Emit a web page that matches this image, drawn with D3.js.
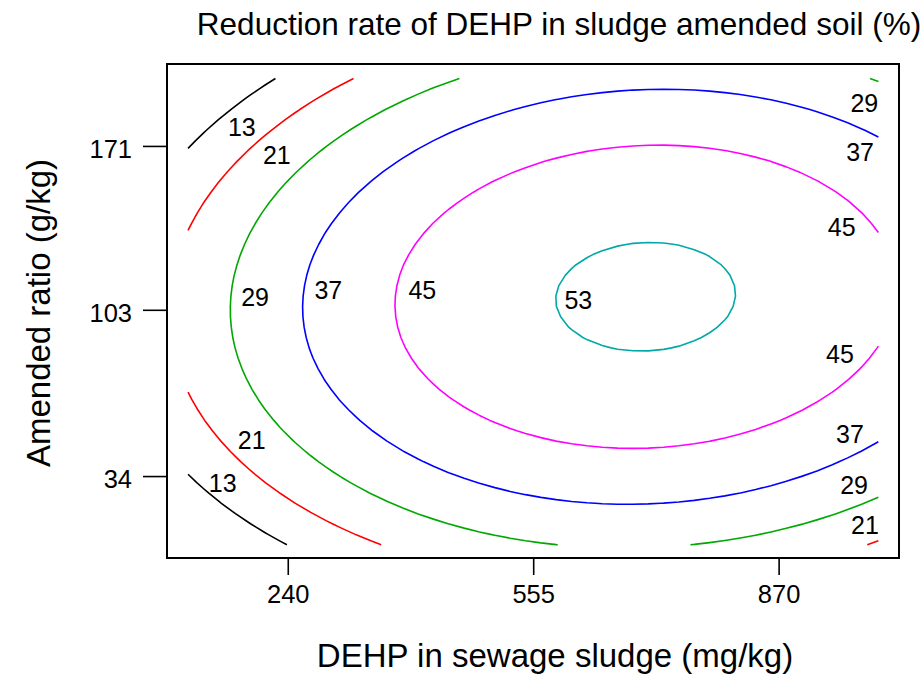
<!DOCTYPE html>
<html>
<head>
<meta charset="utf-8">
<script src="https://cdn.jsdelivr.net/npm/d3@7"></script>
<style>
  body { margin: 0; background: #fff; }
  text { font-family: "Liberation Sans", Arial, sans-serif; fill: #000; }
</style>
</head>
<body>
<svg id="chart" width="924" height="677"></svg>
<script>
// Experimental factors (central composite design, coded levels -1.41 .. +1.41)
const dehpRange = [112, 998];        // DEHP in sewage sludge, mg/kg
const ratioRange = [5.5, 199];       // amended ratio, g/kg
const dehpTicks = [240, 555, 870];
const ratioTicks = [34, 103, 171];
const dehpCenter = 555, dehpStep = 315;
const ratioCenter = 103, ratioStep = 68.5;

// Second-order response surface for the reduction rate (%), coded factors
// terms: intercept, x1, x2, x1^2, x2^2, x1*x2
const modelTerms = ["b0", "b1", "b2", "b11", "b22", "b12"];
const modelCoefs = [52.3, 8.0, 1.25, -8.81, -10.9, 1.03];

// Contour levels and their colours
const levels = [13, 21, 29, 37, 45, 53];
const levelColors = ["#000000", "#ff0000", "#00a800", "#0000ff", "#ff00ff", "#00a8a8"];

// Where each contour label sits: [level, DEHP, ratio]
const labelSpots = [
  [13, 181, 179], [21, 226, 167.2], [29, 198, 108.4], [37, 292, 111.2], [45, 412.7, 111.2],
  [21, 193.7, 49], [13, 156.5, 31.2], [53, 612.9, 107.1],
  [29, 980, 188.7], [37, 974.5, 168.6], [45, 951, 137.2],
  [45, 948.8, 84.7], [37, 961.6, 51.5], [29, 966.8, 30.3], [21, 980.9, 13.7]
];

const svg = d3.select("#chart");
const frame = { left: 167, right: 899, top: 64, bottom: 558 };

const x = d3.scaleLinear().domain([85, 1024.5]).range([frame.left, frame.right]);
const y = d3.scaleLinear().domain([0, 205]).range([frame.bottom, frame.top]);

// Evaluate the fitted surface on a regular grid
const coef = Object.fromEntries(modelTerms.map((t, i) => [t, modelCoefs[i]]));
function response(dehp, ratio) {
  const u = (dehp - dehpCenter) / dehpStep;
  const v = (ratio - ratioCenter) / ratioStep;
  return coef.b0 + coef.b1 * u + coef.b2 * v + coef.b11 * u * u + coef.b22 * v * v + coef.b12 * u * v;
}
const nx = 46, ny = 46;
const grid = new Array(nx * ny);
for (let j = 0; j < ny; j++) {
  const r = ratioRange[0] + j * (ratioRange[1] - ratioRange[0]) / (ny - 1);
  for (let i = 0; i < nx; i++) {
    const d = dehpRange[0] + i * (dehpRange[1] - dehpRange[0]) / (nx - 1);
    grid[j * nx + i] = response(d, r);
  }
}

const contours = d3.contours().size([nx, ny]).thresholds(levels).smooth(true)(grid);

// grid coordinates -> data values
const gx = c => dehpRange[0] + (c - 0.5) * (dehpRange[1] - dehpRange[0]) / (nx - 1);
const gy = c => ratioRange[0] + (c - 0.5) * (ratioRange[1] - ratioRange[0]) / (ny - 1);
const onBorder = p => p[0] <= 0 || p[0] >= nx || p[1] <= 0 || p[1] >= ny;

// Split each contour ring into open isolines, dropping the grid-edge closure
function ringToLines(ring) {
  const pts = ring.slice(0, -1);
  const n = pts.length;
  const start = pts.findIndex(onBorder);
  if (start < 0) return [{ closed: true, pts }];
  const out = [];
  let cur = [];
  for (let k = 1; k <= n; k++) {
    const p = pts[(start + k) % n];
    if (onBorder(p)) {
      if (cur.length > 1) out.push({ closed: false, pts: cur });
      cur = [];
    } else cur.push(p);
  }
  return out;
}

const line = d3.line().x(p => x(gx(p[0]))).y(p => y(gy(p[1])));
const lineClosed = d3.line().curve(d3.curveLinearClosed).x(p => x(gx(p[0]))).y(p => y(gy(p[1])));

const gLines = svg.append("g").attr("fill", "none").attr("stroke-width", 1.6).attr("stroke-linejoin", "round");
contours.forEach(c => {
  const color = levelColors[levels.indexOf(c.value)];
  c.coordinates.forEach(poly => poly.forEach(ring => {
    ringToLines(ring).forEach(seg => {
      gLines.append("path")
        .attr("d", seg.closed ? lineClosed(seg.pts) : line(seg.pts))
        .attr("stroke", color);
    });
  }));
});

// Contour labels
svg.append("g").selectAll("text").data(labelSpots).join("text")
  .attr("x", d => x(d[1])).attr("y", d => y(d[2]))
  .attr("dy", "0.36em")
  .attr("text-anchor", "middle")
  .attr("font-size", 25)
  .text(d => d[0]);

// Plot frame
svg.append("rect")
  .attr("x", frame.left).attr("y", frame.top)
  .attr("width", frame.right - frame.left).attr("height", frame.bottom - frame.top)
  .attr("fill", "none").attr("stroke", "#000").attr("stroke-width", 2);

// Axes
const xAxis = svg.append("g").attr("transform", `translate(0,${frame.bottom})`)
  .call(d3.axisBottom(x).tickValues(dehpTicks).tickSize(17).tickPadding(10).tickFormat(d3.format("d")));
const yAxis = svg.append("g").attr("transform", `translate(${frame.left},0)`)
  .call(d3.axisLeft(y).tickValues(ratioTicks).tickSize(24).tickPadding(11).tickFormat(d3.format("d")));
[xAxis, yAxis].forEach(a => {
  a.select(".domain").remove();
  a.selectAll(".tick line").attr("stroke", "#000").attr("stroke-width", 1.6);
  a.selectAll(".tick text").attr("font-size", 25.5).attr("font-family", null).attr("fill", "#000");
});
yAxis.selectAll(".tick text").attr("dy", "0.45em");

// Titles
svg.append("text").attr("x", 559).attr("y", 35).attr("text-anchor", "middle")
  .attr("font-size", 31.5).text("Reduction rate of DEHP in sludge amended soil (%)");
svg.append("text").attr("x", 555).attr("y", 667).attr("text-anchor", "middle")
  .attr("font-size", 33).text("DEHP in sewage sludge (mg/kg)");
svg.append("text").attr("transform", "translate(50,313) rotate(-90)").attr("text-anchor", "middle")
  .attr("font-size", 33).text("Amended ratio (g/kg)");
</script>
</body>
</html>
